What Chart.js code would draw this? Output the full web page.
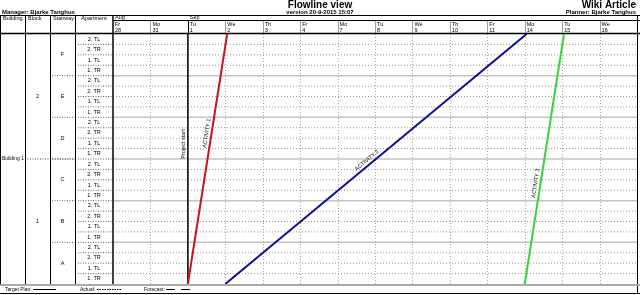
<!DOCTYPE html>
<html>
<head>
<meta charset="utf-8">
<script src="https://cdn.jsdelivr.net/npm/chart.js@4.4.1/dist/chart.umd.min.js"></script>
<style>
  body { margin: 0; background: #fff; }
  canvas { display: block; }
</style>
</head>
<body>
<canvas id="flowline" width="640" height="295"></canvas>
<script>
// working days shown on the time axis (index 0 = Fr 28 Aug)
const dayNames = ["Fr","Mo","Tu","We","Th","Fr","Mo","Tu","We","Th","Fr","Mo","Tu","We"];
const dayNumbers = ["28","31","1","2","3","4","7","8","9","10","11","14","15","16"];
const monthLabels = ["Aug","Sep"];
const monthStarts = [0, 2];

// locations, top to bottom
const blocks = ["2","1"];
const stairways = ["F","E","D","C","B","A"];
const apartments = ["2. TL","2. TR","1. TL","1. TR"];

// activities: start day at the bottom row, finish day at the top row
const activityNames = ["ACTIVITY 1","ACTIVITY 2","ACTIVITY 3"];
const activityStart = [2, 3, 11];
const activityEnd = [3.05, 11.05, 12.05];
const activityColors = ["#c8141e","#10108c","#3ad23a"];
const projectStart = 2;

const rowCount = stairways.length * apartments.length;
const FONT = "Liberation Sans, Arial, sans-serif";

const datasets = activityNames.map((name, i) => ({
  label: name,
  data: [{x: activityStart[i], y: 0}, {x: activityEnd[i], y: rowCount}],
  borderColor: activityColors[i],
  borderWidth: 2,
  pointRadius: 0,
  showLine: true
}));
datasets.push({
  label: "Project start",
  data: [{x: projectStart, y: 0}, {x: projectStart, y: rowCount}],
  borderColor: "#000",
  borderWidth: 1.5,
  pointRadius: 0,
  showLine: true
});

function line(ctx, x1, y1, x2, y2, color, width, dash) {
  ctx.save();
  ctx.strokeStyle = color;
  ctx.lineWidth = width;
  ctx.setLineDash(dash || []);
  ctx.beginPath();
  ctx.moveTo(x1, y1);
  ctx.lineTo(x2, y2);
  ctx.stroke();
  ctx.restore();
}

function text(ctx, s, x, y, size, align, bold) {
  ctx.save();
  ctx.fillStyle = "#000";
  ctx.font = (bold ? "bold " : "") + size + "px " + FONT;
  ctx.textAlign = align || "left";
  ctx.textBaseline = "middle";
  ctx.fillText(s, x, y);
  ctx.restore();
}

const tablePlugin = {
  id: "table",
  beforeDraw(chart) {
    const ctx = chart.ctx;
    ctx.save();
    ctx.fillStyle = "#fff";
    ctx.fillRect(0, 0, chart.width, chart.height);
    ctx.restore();
  },
  beforeDatasetsDraw(chart) {
    const ctx = chart.ctx;
    const a = chart.chartArea;
    const xs = chart.scales.x, ys = chart.scales.y;
    const W = chart.width;
    const rowY = r => ys.getPixelForValue(rowCount - r);

    // titles
    text(ctx, "Flowline view", 320, 5.5, 10, "center", true);
    text(ctx, "version 20-9-2015 15:07", 320, 12, 6, "center", true);
    text(ctx, "Manager: Bjarke Tanghus", 2, 12, 6, "left", true);
    text(ctx, "Wiki Article", 636, 5.5, 10, "right", true);
    text(ctx, "Planner: Bjarke Tanghus", 636, 12, 6, "right", true);

    // chart grid: rows
    for (let r = 1; r < rowCount; r++) {
      const y = rowY(r);
      if (r % apartments.length === 0) line(ctx, a.left, y, a.right, y, "#c4c4c4", 1.5);
      else line(ctx, a.left, y, a.right, y, "#9a9a9a", 1, [1, 2]);
    }
    // chart grid: days
    for (let d = 1; d < dayNames.length; d++) {
      const x = Math.round(xs.getPixelForValue(d)) + 0.5;
      line(ctx, x, a.top, x, a.bottom, "#a8a8a8", 1, [1, 2]);
      line(ctx, x, 20, x, a.top, monthStarts.includes(d) ? "#000" : "#a0a0a0", 1);
    }

    // header
    monthLabels.forEach((m, i) => text(ctx, m, xs.getPixelForValue(monthStarts[i]) + 2, 17.5, 5.5));
    dayNames.forEach((d, i) => {
      const x = xs.getPixelForValue(i) + 2;
      text(ctx, d, x, 24, 5.5);
      text(ctx, dayNumbers[i], x, 30, 5.5);
    });
    text(ctx, "Building", 3, 18, 5.5);
    text(ctx, "Block", 28, 18, 5.5);
    text(ctx, "Stairway", 53, 18, 5.5);
    text(ctx, "Apartment", 94, 18, 5.5, "center");

    // location table
    for (let r = 0; r < rowCount; r++) {
      const y0 = rowY(r), y1 = rowY(r + 1);
      text(ctx, apartments[r % apartments.length], 94, (y0 + y1) / 2, 5.5, "center");
      if (r > 0) line(ctx, 78, y0, a.left, y0, "#666", 1, [1, 1.5]);
    }
    stairways.forEach((s, i) => {
      const y0 = rowY(i * apartments.length), y1 = rowY((i + 1) * apartments.length);
      text(ctx, s, 62.5, (y0 + y1) / 2, 5.5, "center");
      if (i > 0) line(ctx, 52, y0, 75, y0, "#666", 1, [1, 1.5]);
    });
    const perBlock = rowCount / blocks.length;
    blocks.forEach((b, i) => {
      const y0 = rowY(i * perBlock), y1 = rowY((i + 1) * perBlock);
      text(ctx, b, 37.5, (y0 + y1) / 2, 5.5, "center");
    });
    const by = rowY(perBlock);
    text(ctx, "Building 1", 2, by, 5);
    line(ctx, 25, by, 75, by, "#444", 1, [1, 1.5]);

    // frame
    line(ctx, 0, 15.5, W, 15.5, "#000", 1);
    line(ctx, a.left, 20.5, W, 20.5, "#000", 1);
    line(ctx, 0, 33.5, W, 33.5, "#000", 1.5);
    [0.5, 25.5, 50.5, 75.5].forEach(x => line(ctx, x, 15, x, a.bottom, "#000", 1));
    line(ctx, a.left, 15, a.left, a.bottom, "#000", 1.5);
    line(ctx, W - 2.5, 15, W - 2.5, 294, "#000", 1);
    line(ctx, 0, a.bottom + 1, W, a.bottom + 1, "#aaa", 2);
    line(ctx, 0, 293.5, W, 293.5, "#000", 1);

    // legend row
    const ly = 289.5;
    text(ctx, "Target Plan:", 5, ly, 5);
    line(ctx, 33, ly, 56, ly, "#000", 1);
    text(ctx, "Actual:", 80, ly, 5);
    line(ctx, 97, ly, 121, ly, "#000", 1, [1.5, 1]);
    text(ctx, "Forecast:", 144, ly, 5);
    line(ctx, 166, ly, 175, ly, "#000", 1);
    line(ctx, 181, ly, 190, ly, "#000", 1);
  },
  afterDatasetsDraw(chart) {
    const ctx = chart.ctx;
    const xs = chart.scales.x, ys = chart.scales.y;
    const along = [0.6, 0.48, 0.4];
    activityNames.forEach((name, i) => {
      const x0 = xs.getPixelForValue(activityStart[i]), y0 = ys.getPixelForValue(0);
      const x1 = xs.getPixelForValue(activityEnd[i]), y1 = ys.getPixelForValue(rowCount);
      const ang = Math.atan2(y1 - y0, x1 - x0);
      const t = along[i];
      ctx.save();
      ctx.translate(x0 + (x1 - x0) * t, y0 + (y1 - y0) * t);
      ctx.rotate(ang);
      ctx.fillStyle = "#000";
      ctx.font = "5.5px " + FONT;
      ctx.textAlign = "center";
      ctx.textBaseline = "bottom";
      ctx.fillText(name, 0, -2);
      ctx.restore();
    });
    const px = xs.getPixelForValue(projectStart);
    ctx.save();
    ctx.translate(px, ys.getPixelForValue(rowCount * 0.56));
    ctx.rotate(-Math.PI / 2);
    ctx.fillStyle = "#000";
    ctx.font = "5.5px " + FONT;
    ctx.textAlign = "center";
    ctx.textBaseline = "bottom";
    ctx.fillText("Project start", 0, -2);
    ctx.restore();
  }
};

new Chart(document.getElementById("flowline"), {
  type: "scatter",
  data: { datasets: datasets },
  options: {
    responsive: false,
    animation: false,
    devicePixelRatio: 1,
    layout: { padding: { left: 113, top: 34, right: 3, bottom: 11 } },
    scales: {
      x: { type: "linear", min: 0, max: dayNames.length, display: false },
      y: { type: "linear", min: 0, max: rowCount, display: false }
    },
    plugins: { legend: { display: false }, tooltip: { enabled: false } }
  },
  plugins: [tablePlugin]
});
</script>
</body>
</html>
